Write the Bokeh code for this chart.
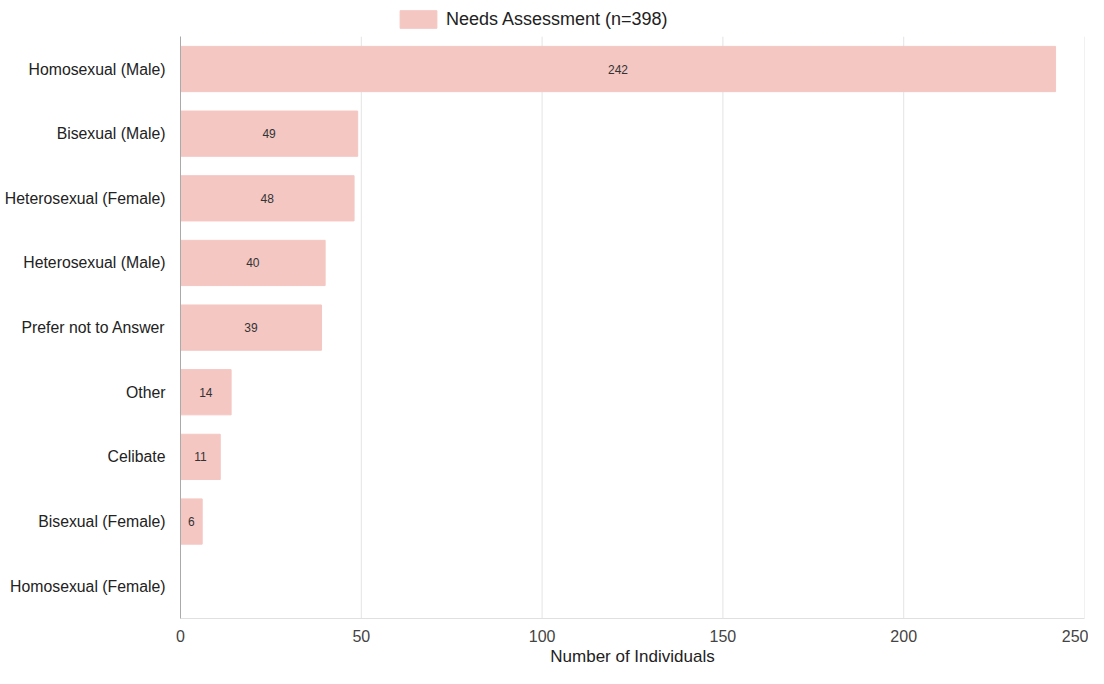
from bokeh.plotting import figure
from bokeh.models import ColumnDataSource, Legend, LegendItem, FixedTicker, Range1d
from bokeh.core.properties import value
from bokeh.embed import file_html
from bokeh.resources import INLINE

categories = ["Homosexual (Male)", "Bisexual (Male)", "Heterosexual (Female)",
              "Heterosexual (Male)", "Prefer not to Answer", "Other", "Celibate",
              "Bisexual (Female)", "Homosexual (Female)"]
counts = [242, 49, 48, 40, 39, 14, 11, 6, 0]
series_name = "Needs Assessment (n=398)"
x_ticks = [0, 50, 100, 150, 200, 250]

FONT = "Liberation Sans"
BAR = "#f4c7c3"

pos = list(range(len(categories)))
n = len(categories)
src = ColumnDataSource(dict(
    pos=pos,
    val=counts,
    mid=[v / 2 for v in counts],
    lab=[str(v) if v > 0 else "" for v in counts],
))

# extra head-room (in category units) above the first band for the legend
head = 0.56
p = figure(width=1088, height=668, output_backend="svg", toolbar_location=None,
           y_range=Range1d(n - 0.5, -0.5 - head), x_range=Range1d(0, 250),
           min_border_left=180, min_border_right=4, min_border_top=0,
           min_border_bottom=46)
p.outline_line_color = None
p.background_fill_color = "white"

# vertical grid lines, limited to the category area
p.segment(x0=x_ticks, x1=x_ticks, y0=[-0.5] * len(x_ticks), y1=[n - 0.5] * len(x_ticks),
          line_color="#e4e4e4", line_width=1)

r = p.hbar(y="pos", right="val", left=0, height=0.7, source=src,
           fill_color=BAR, line_color=BAR)
p.text(x="mid", y="pos", text="lab", source=src, text_align="center",
       text_baseline="middle", text_font_size="12px", text_color="#333333",
       text_font=value(FONT))

p.xaxis.ticker = FixedTicker(ticks=x_ticks)
p.xaxis.axis_label = "Number of Individuals"
p.xaxis.axis_label_text_font = FONT
p.xaxis.axis_label_text_font_style = "normal"
p.xaxis.axis_label_text_font_size = "17px"
p.xaxis.axis_label_text_color = "#222222"
p.xaxis.axis_label_standoff = 2
p.xaxis.major_label_text_font = FONT
p.xaxis.major_label_text_font_size = "16px"
p.xaxis.major_label_text_color = "#444444"
p.xaxis.major_label_standoff = 5
p.xaxis.axis_line_color = "#e0e0e0"
p.xaxis.major_tick_line_color = None
p.xaxis.minor_tick_line_color = None

p.yaxis.ticker = FixedTicker(ticks=pos)
p.yaxis.major_label_overrides = {i: c for i, c in zip(pos, categories)}
p.yaxis.bounds = (-0.5, n - 0.5)
p.yaxis.major_label_text_font = FONT
p.yaxis.major_label_text_font_size = "15.8px"
p.yaxis.major_label_text_color = "#222222"
p.yaxis.major_label_standoff = 9
p.yaxis.axis_line_color = "#aaaaaa"
p.yaxis.major_tick_line_color = None
p.yaxis.minor_tick_line_color = None

p.ygrid.grid_line_color = None
p.xgrid.grid_line_color = None

legend = Legend(items=[LegendItem(label=series_name, renderers=[r])],
                orientation="horizontal", location=(215, 588),
                glyph_width=46, glyph_height=22, label_text_font=FONT,
                label_text_font_size="18px", label_text_color="#222222",
                label_height=18, padding=0, margin=0, border_line_alpha=0,
                background_fill_alpha=0, label_standoff=5)
p.add_layout(legend, "center")

open("out.html", "w").write(file_html(p, INLINE))
